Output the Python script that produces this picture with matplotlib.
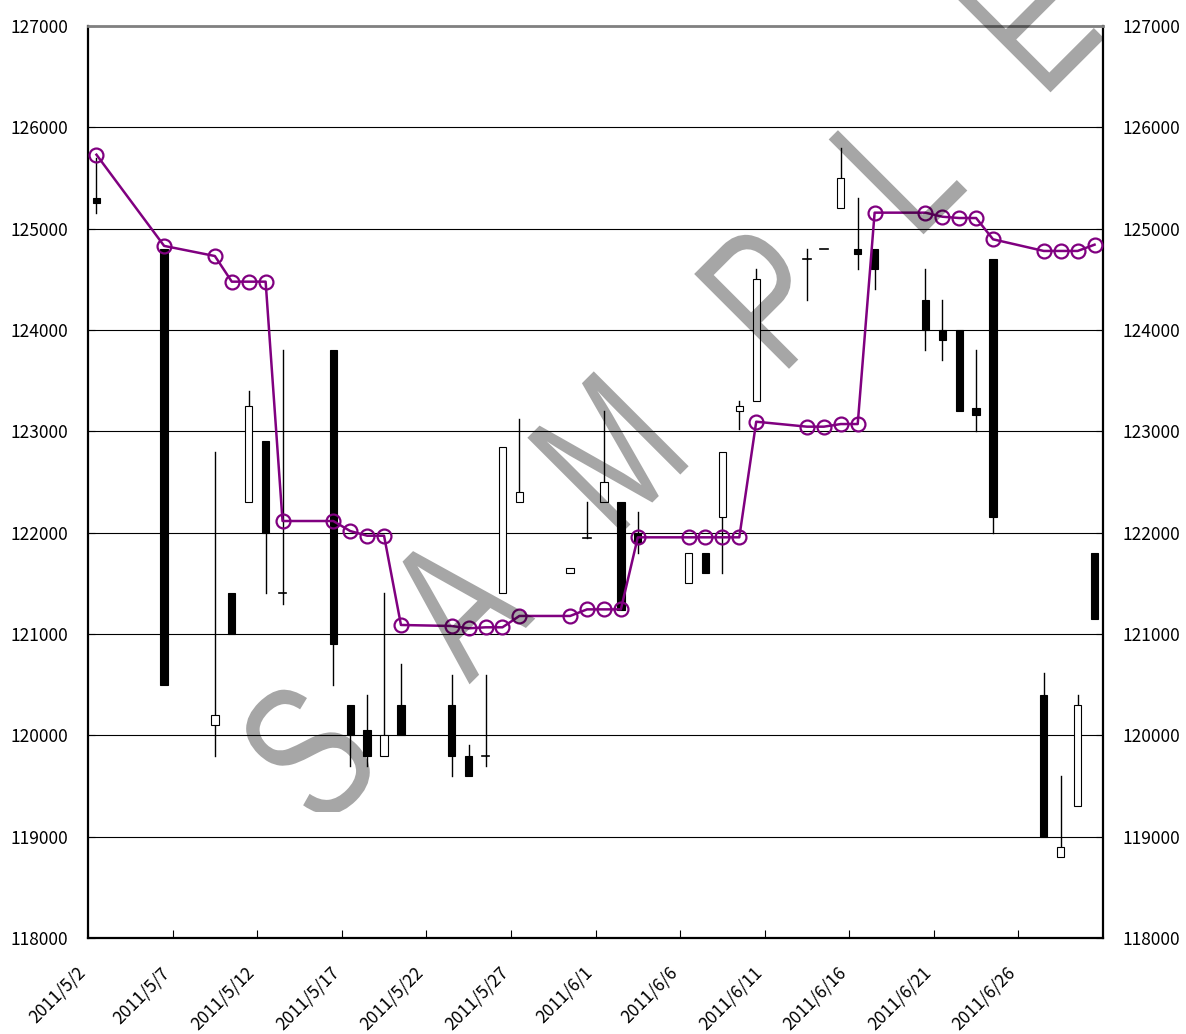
import datetime as dt
import matplotlib
matplotlib.use("Agg")
import matplotlib.pyplot as plt
import matplotlib.dates as mdates
import matplotlib.transforms as mtransforms
from matplotlib.patches import Rectangle, PathPatch
from matplotlib.textpath import TextPath
from matplotlib.font_manager import FontProperties

# daily candles (trading days only)
dates = ["2011-05-02", "2011-05-06", "2011-05-09", "2011-05-10", "2011-05-11", "2011-05-12",
         "2011-05-13", "2011-05-16", "2011-05-17", "2011-05-18", "2011-05-19", "2011-05-20",
         "2011-05-23", "2011-05-24", "2011-05-25", "2011-05-26", "2011-05-27", "2011-05-30",
         "2011-05-31", "2011-06-01", "2011-06-02", "2011-06-03", "2011-06-06", "2011-06-07",
         "2011-06-08", "2011-06-09", "2011-06-10", "2011-06-13", "2011-06-14", "2011-06-15",
         "2011-06-16", "2011-06-17", "2011-06-20", "2011-06-21", "2011-06-22", "2011-06-23",
         "2011-06-24", "2011-06-27", "2011-06-28", "2011-06-29", "2011-06-30"]
opens  = [125300, 124800, 120100, 121400, 122300, 122900, 121400, 123800, 120300, 120050,
          119800, 120300, 120300, 119800, 119800, 121400, 122300, 121600, 121950, 122300,
          122300, 122000, 121500, 121800, 122150, 123200, 123300, 124700, 124800, 125200,
          124800, 124800, 124300, 124000, 124000, 123230, 124700, 120400, 118800, 119300,
          121800]
highs  = [125700, 124800, 122800, 121400, 123400, 122900, 123800, 123800, 120300, 120400,
          121400, 120700, 120600, 119900, 120600, 122850, 123120, 121650, 122300, 123200,
          122300, 122200, 121800, 121800, 122800, 123300, 124600, 124800, 124800, 125800,
          125300, 124800, 124600, 124300, 124000, 123800, 124700, 120620, 119600, 120400,
          121800]
lows   = [125150, 120500, 119800, 121000, 122300, 121400, 121300, 120500, 119700, 119700,
          119800, 120000, 119600, 119600, 119700, 121400, 122300, 121600, 121950, 122300,
          121240, 121800, 121500, 121600, 121600, 123020, 123300, 124300, 124800, 125200,
          124600, 124400, 123800, 123700, 123200, 123000, 122000, 119000, 118800, 119300,
          121150]
closes = [125250, 120500, 120200, 121000, 123250, 122000, 121400, 120900, 120000, 119800,
          120000, 120000, 119800, 119600, 119800, 122850, 122400, 121650, 121950, 122500,
          121240, 121900, 121800, 121600, 122800, 123250, 124500, 124700, 124800, 125500,
          124750, 124600, 124000, 123900, 123200, 123160, 122150, 119000, 118900, 120300,
          121150]
# purple line series
line_vals = [125730, 124830, 124730, 124477, 124477, 124477, 122115, 122115, 122016, 121970,
             121970, 121089, 121079, 121056, 121066, 121066, 121178, 121178, 121243, 121243,
             121243, 121954, 121954, 121954, 121954, 121954, 123095, 123046, 123046, 123072,
             123072, 125158, 125158, 125118, 125105, 125105, 124895, 124780, 124780, 124780,
             124842]

y_ticks = list(range(118000, 127001, 1000))
x_start = dt.date(2011, 5, 2)
x_end = dt.date(2011, 7, 1)
tick_dates = [x_start + dt.timedelta(days=5 * k) for k in range(12)]
tick_labels = ["%d/%d/%d" % (d.year, d.month, d.day) for d in tick_dates]

plt.rcParams["font.family"] = ["Noto Sans CJK JP", "DejaVu Sans"]

W, H = 1186, 1034
fig = plt.figure(figsize=(W / 100, H / 100), dpi=100)
ax = fig.add_axes([88 / W, 96 / H, 1015 / W, 912 / H])

xs = [mdates.date2num(dt.date.fromisoformat(d)) + 0.5 for d in dates]
body_w = 0.43
for x, o, h, l, c in zip(xs, opens, highs, lows, closes):
    top = max(o, c)
    bot = min(o, c)
    if h > top:
        ax.plot([x, x], [top, h], color="black", lw=1, zorder=2)
    if l < bot:
        ax.plot([x, x], [l, bot], color="black", lw=1, zorder=2)
    face = "white" if c > o else "black"
    if top - bot < 15:
        ax.plot([x - body_w / 2, x + body_w / 2], [o, o], color="black", lw=1.2, zorder=3)
    else:
        ax.add_patch(Rectangle((x - body_w / 2, bot), body_w, top - bot,
                               facecolor=face, edgecolor="black", lw=0.8, zorder=3))

ax.plot(xs, line_vals, color="#800080", lw=1.8, marker="o", markersize=10,
        markerfacecolor="none", markeredgecolor="#800080", markeredgewidth=1.6, zorder=5)

ax.set_xlim(mdates.date2num(x_start), mdates.date2num(x_end))
ax.set_ylim(118000, 127000)
ax.set_yticks(y_ticks)
ax.set_yticklabels([str(v) for v in y_ticks])
ax.set_xticks([mdates.date2num(d) for d in tick_dates])
ax.set_xticklabels(tick_labels, rotation=45, ha="right", va="top", rotation_mode="anchor")

ax.yaxis.grid(True, color="black", lw=0.8)
ax.set_axisbelow(True)
ax.tick_params(axis="y", direction="in", length=5, left=True, right=True,
               labelleft=True, labelright=True, labelsize=12.5, pad=14)
ax.tick_params(axis="x", direction="in", length=6, labelsize=12.5, pad=18.5)
for side in ["left", "bottom", "right"]:
    ax.spines[side].set_color("black")
    ax.spines[side].set_linewidth(1.6)
ax.spines["top"].set_color("#808080")
ax.spines["top"].set_linewidth(2)

offset = mtransforms.ScaledTranslation(-0.12, 0, fig.dpi_scale_trans)
for lab in ax.get_xticklabels():
    lab.set_transform(lab.get_transform() + offset)

# SAMPLE watermark, narrow letters turned 45 degrees (pixel positions of letter centres)
wm = [("S", 307, 752), ("A", 455, 604), ("M", 608, 452), ("P", 768, 295),
      ("L", 898, 165), ("E", 1030, 18)]
fp = FontProperties(family="Liberation Sans")
clip = mtransforms.Bbox.from_extents(0, H - 812, 1103, H)
for ch, px, py in wm:
    tp = TextPath((0, 0), ch, size=195, prop=fp)
    ext = tp.get_extents()
    tr = (mtransforms.Affine2D()
          .translate(-(ext.x0 + ext.x1) / 2, -(ext.y0 + ext.y1) / 2)
          .scale(0.72, 1)
          .rotate_deg(45)
          .translate(px, H - py))
    patch = PathPatch(tr.transform_path(tp), facecolor="black", edgecolor="none",
                      alpha=0.35, transform=mtransforms.IdentityTransform(), zorder=10)
    patch.set_clip_box(clip)
    fig.add_artist(patch)

fig.savefig("out.png", dpi=100)
